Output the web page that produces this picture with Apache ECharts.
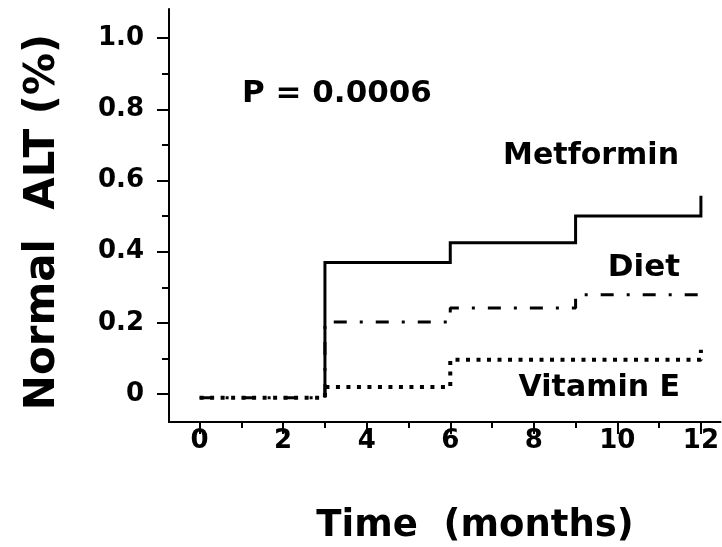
<!DOCTYPE html>
<html>
<head>
<meta charset="utf-8">
<script src="https://cdn.jsdelivr.net/npm/echarts@6/dist/echarts.min.js"></script>
<style>
  html, body { margin: 0; padding: 0; background: #fff; }
  #chart { width: 722px; height: 547px; }
</style>
</head>
<body>
<div id="chart"></div>
<script>
// Proportion of patients reaching normal ALT over follow-up, by treatment arm
const metforminTimes = [3, 3, 6, 9, 12];
const metforminValues = [-0.01, 0.37, 0.425, 0.50, 0.557];

const dietTimes = [0, 3, 6, 9, 12];
const dietValues = [-0.01, 0.203, 0.242, 0.279, 0.279];

const vitaminETimes = [0, 3, 6, 9, 12];
const vitaminEValues = [-0.01, 0.02, 0.097, 0.097, 0.125];

const xMajorTicks = [0, 2, 4, 6, 8, 10, 12];
const xMinorTicks = [1, 3, 5, 7, 9, 11];
const yMajorTicks = [0, 0.2, 0.4, 0.6, 0.8, 1.0];
const yMajorLabels = ['0', '0.2', '0.4', '0.6', '0.8', '1.0'];
const yMinorTicks = [0.1, 0.3, 0.5, 0.7, 0.9];

const pValueText = 'P = 0.0006';
const seriesNames = ['Metformin', 'Diet', 'Vitamin E'];

const FONT = 'DejaVu Sans';
const X_MIN = -0.733, X_MAX = 12.47;
const Y_MIN = -0.078, Y_MAX = 1.0815;

function pairs(xs, ys) {
  return xs.map((x, i) => [x, ys[i]]);
}

const chart = echarts.init(document.getElementById('chart'), null, { renderer: 'canvas' });

const tickLabelStyle = {
  color: '#000',
  fontFamily: FONT,
  fontWeight: 'bold',
  fontSize: 26
};

function boldFont(size) {
  return 'bold ' + size + 'px "' + FONT + '"';
}

const option = {
  backgroundColor: '#fff',
  animation: false,
  grid: { left: 169, right: 0, top: 9, bottom: 125, containLabel: false },
  xAxis: [
    {
      type: 'value', min: X_MIN, max: X_MAX,
      axisLine: { onZero: false, lineStyle: { color: '#000', width: 2 } },
      axisTick: { customValues: xMajorTicks, length: 12, lineStyle: { color: '#000', width: 2 } },
      axisLabel: Object.assign({ customValues: xMajorTicks, margin: 6 }, tickLabelStyle),
      splitLine: { show: false }
    },
    {
      type: 'value', min: X_MIN, max: X_MAX, position: 'bottom',
      axisLine: { show: false, onZero: false },
      axisTick: { customValues: xMinorTicks, length: 6, lineStyle: { color: '#000', width: 2 } },
      axisLabel: { show: false },
      splitLine: { show: false }
    }
  ],
  yAxis: [
    {
      type: 'value', min: Y_MIN, max: Y_MAX,
      axisLine: { show: true, onZero: false, lineStyle: { color: '#000', width: 2 } },
      axisTick: { show: true, customValues: yMajorTicks, length: 12, lineStyle: { color: '#000', width: 2 } },
      axisLabel: Object.assign({
        customValues: yMajorTicks,
        margin: 25,
        formatter: v => yMajorLabels[yMajorTicks.findIndex(t => Math.abs(t - v) < 1e-9)]
      }, tickLabelStyle),
      splitLine: { show: false }
    },
    {
      type: 'value', min: Y_MIN, max: Y_MAX, position: 'left',
      axisLine: { show: false, onZero: false },
      axisTick: { show: true, customValues: yMinorTicks, length: 7, lineStyle: { color: '#000', width: 2 } },
      axisLabel: { show: false },
      splitLine: { show: false }
    }
  ],
  series: [
    {
      name: seriesNames[2], type: 'line', step: 'end', symbol: 'none',
      data: pairs(vitaminETimes, vitaminEValues),
      lineStyle: { color: '#000', width: 4, type: [4, 6.5], cap: 'butt' },
      z: 3
    },
    {
      name: seriesNames[1], type: 'line', step: 'end', symbol: 'none',
      data: pairs(dietTimes, dietValues),
      lineStyle: { color: '#000', width: 3, type: [13, 13, 3, 13], cap: 'butt' },
      z: 4
    },
    {
      name: seriesNames[0], type: 'line', step: 'end', symbol: 'none',
      data: pairs(metforminTimes, metforminValues),
      lineStyle: { color: '#000', width: 3, type: 'solid', cap: 'butt', join: 'miter' },
      z: 5
    }
  ],
  graphic: [
    {
      type: 'text', x: 242, y: 94,
      style: { text: pValueText, fill: '#000', font: boldFont(31), textAlign: 'left', textVerticalAlign: 'middle' }
    },
    {
      type: 'text', x: 679, y: 156,
      style: { text: seriesNames[0], fill: '#000', font: boldFont(30), textAlign: 'right', textVerticalAlign: 'middle' }
    },
    {
      type: 'text', x: 680, y: 268,
      style: { text: seriesNames[1], fill: '#000', font: boldFont(31), textAlign: 'right', textVerticalAlign: 'middle' }
    },
    {
      type: 'text', x: 680, y: 388,
      style: { text: seriesNames[2], fill: '#000', font: boldFont(30), textAlign: 'right', textVerticalAlign: 'middle' }
    },
    {
      type: 'text', x: 475, y: 526,
      style: { text: 'Time  (months)', fill: '#000', font: boldFont(37), textAlign: 'center', textVerticalAlign: 'middle' }
    },
    {
      type: 'text', x: 43, y: 222, rotation: Math.PI / 2,
      style: { text: 'Normal  ALT (%)', fill: '#000', font: boldFont(42), textAlign: 'center', textVerticalAlign: 'middle' }
    }
  ]
};

chart.setOption(option);
</script>
</body>
</html>
